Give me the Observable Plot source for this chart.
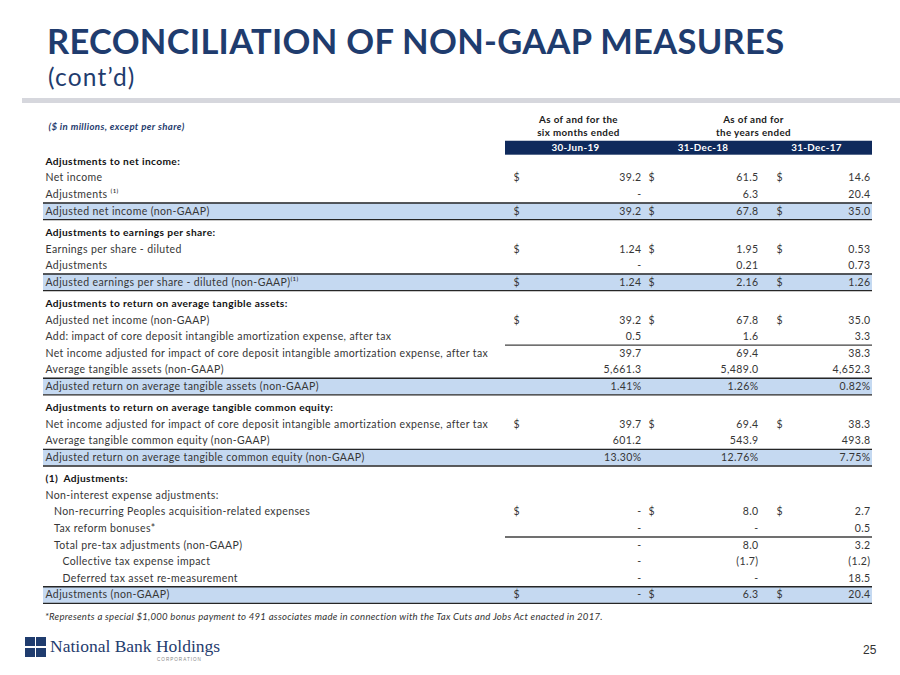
<!DOCTYPE html>
<html><head><meta charset="utf-8">
<script src="https://cdn.jsdelivr.net/npm/d3@7"></script>
<script src="https://cdn.jsdelivr.net/npm/@observablehq/plot@0.6"></script>
<style>
body{margin:0;background:#fff;}
#slide{position:relative;width:900px;height:675px;overflow:hidden;font-family:Lato,"Open Sans",sans-serif;background:#fff;}
#title{position:absolute;left:47px;top:26px;font-size:34.5px;font-weight:700;color:#1F3C6E;white-space:nowrap;line-height:30px;letter-spacing:0.3px;}
#subtitle{position:absolute;left:48px;top:64.5px;font-size:24.5px;color:#1F3C6E;white-space:nowrap;line-height:24px;letter-spacing:1.2px;}
#bar{position:absolute;left:22px;right:0;top:98px;height:5px;background:#D6D7DD;}
#chart{position:absolute;left:0;top:105px;}
#note{position:absolute;left:45px;top:611px;font-size:9.6px;font-style:italic;color:#333;white-space:nowrap;letter-spacing:0.25px;}
#logo{position:absolute;left:25px;top:637px;width:21px;height:20px;}
#logo i{position:absolute;width:9.5px;height:9px;background:#1F3C6E;}
#brand{position:absolute;left:50px;top:636px;font-family:"Liberation Serif",serif;font-size:17.5px;color:#1F3C6E;white-space:nowrap;line-height:20px;}
#corp{position:absolute;left:157px;top:657px;font-size:4.6px;letter-spacing:1px;color:#888;font-family:"Liberation Sans",sans-serif;}
#page{position:absolute;left:863px;top:643px;font-size:12px;color:#333;font-family:"Liberation Sans",sans-serif;}
</style></head>
<body>
<div id="slide">
  <div id="title"></div>
  <div id="subtitle"></div>
  <div id="bar"></div>
  <div id="chart"></div>
  <div id="note"></div>
  <div id="logo"><i style="left:0;top:0"></i><i style="left:11px;top:0"></i><i style="left:0;top:10.5px"></i><i style="left:11px;top:10.5px"></i></div>
  <div id="brand"></div>
  <div id="corp"></div>
  <div id="page"></div>
</div>
<script>
// ---------- data ----------
const titleText = "RECONCILIATION OF NON-GAAP MEASURES";
const subtitleText = "(cont\u2019d)";
const unitNote = "($ in millions, except per share)";
const groupLine1 = ["As of and for the", "As of and for"];
const groupLine2 = ["six months ended", "the years ended"];
const periods = ["30-Jun-19", "31-Dec-18", "31-Dec-17"];
const sectionTitles = [
  "Adjustments to net income:",
  "Adjustments to earnings per share:",
  "Adjustments to return on average tangible assets:",
  "Adjustments to return on average tangible common equity:",
  "(1)  Adjustments:"
];
const rowLabels = [
  "Net income",
  "Adjustments \u207D\u00B9\u207E",
  "Adjusted net income (non-GAAP)",
  "Earnings per share - diluted",
  "Adjustments",
  "Adjusted earnings per share - diluted (non-GAAP)\u207D\u00B9\u207E",
  "Adjusted net income (non-GAAP)",
  "Add: impact of core deposit intangible amortization expense, after tax",
  "Net income adjusted for impact of core deposit intangible amortization expense, after tax",
  "Average tangible assets (non-GAAP)",
  "Adjusted return on average tangible assets (non-GAAP)",
  "Net income adjusted for impact of core deposit intangible amortization expense, after tax",
  "Average tangible common equity (non-GAAP)",
  "Adjusted return on average tangible common equity (non-GAAP)",
  "Non-interest expense adjustments:",
  "Non-recurring Peoples acquisition-related expenses",
  "Tax reform bonuses*",
  "Total pre-tax adjustments (non-GAAP)",
  "Collective tax expense impact",
  "Deferred tax asset re-measurement",
  "Adjustments (non-GAAP)"
];
const rowSection = [0,0,0, 1,1,1, 2,2,2,2,2, 3,3,3, 4,4,4,4,4,4,4];
const rowIndent  = [0,0,0, 0,0,0, 0,0,0,0,0, 0,0,0, 0,1,1,1,2,2,0];
const jun19 = [39.2, 0, 39.2, 1.24, 0, 1.24, 39.2, 0.5, 39.7, 5661.3, 1.41, 39.7, 601.2, 13.30, null, 0, 0, 0, 0, 0, 0];
const dec18 = [61.5, 6.3, 67.8, 1.95, 0.21, 2.16, 67.8, 1.6, 69.4, 5489.0, 1.26, 69.4, 543.9, 12.76, null, 8.0, 0, 8.0, -1.7, 0, 6.3];
const dec17 = [14.6, 20.4, 35.0, 0.53, 0.73, 1.26, 35.0, 3.3, 38.3, 4652.3, 0.82, 38.3, 493.8, 7.75, null, 2.7, 0.5, 3.2, -1.2, 18.5, 20.4];
const rowFormat = ["m","m","m","eps","eps","eps","m","m","m","m","pct","m","m","pct",null,"m","m","m","m","m","m"];
const dollarRows = [0, 2, 3, 5, 6, 11, 15, 20];
const totalRows = [2, 5, 10, 13, 20];
const subtotalRows = [7, 16];
const footnote = "*Represents a special $1,000 bonus payment to 491 associates made in connection with the Tax Cuts and Jobs Act enacted in 2017.";
const brandName = "National Bank Holdings";
const brandSub = "CORPORATION";
const pageNumber = "25";

// ---------- layout ----------
const L = {
  labelX: 45, indentStep: 8.5, tableLeft: 43, tableRight: 872,
  colLeft: [505, 645, 760], colRight: [645, 760, 872],
  dollarX: [513, 648, 776], valueX: [641, 758, 870],
  groupX: [578, 753],
  gapUnits: 0.28, pitch: 16.6, firstRow: 56
};
const navy = "#1F3C6E", bandNavy = "#0F2A5C", ink = "#363636", lightBlue = "#C5D9F1";

document.getElementById("title").textContent = titleText;
document.getElementById("subtitle").textContent = subtitleText;
document.getElementById("note").textContent = footnote;
document.getElementById("brand").textContent = brandName;
document.getElementById("corp").textContent = brandSub;
document.getElementById("page").textContent = pageNumber;

// slots
const headers = [];
const rows = [];
let slot = 0, prevSection = -1;
rowLabels.forEach((label, i) => {
  const s = rowSection[i];
  if (s !== prevSection) {
    if (prevSection >= 0) slot += L.gapUnits;
    headers.push({label: sectionTitles[s], slot});
    slot += 1;
    prevSection = s;
  }
  rows.push({i, label, slot, indent: rowIndent[i], vals: [jun19[i], dec18[i], dec17[i]], fmt: rowFormat[i]});
  slot += 1;
});

const fmt = (v, f) => {
  if (v == null) return null;
  if (v === 0) return "-";
  const a = Math.abs(v);
  let s = f === "eps" ? d3.format(",.2f")(a) : f === "pct" ? d3.format(".2f")(a) + "%" : d3.format(",.1f")(a);
  return v < 0 ? "(" + s + ")" : s;
};
const cells = rows.flatMap(r => r.vals.map((v, c) => ({slot: r.slot, c, v, text: fmt(v, r.fmt), f: r.fmt}))).filter(d => d.text != null);
const dollars = rows.filter(r => dollarRows.includes(r.i)).flatMap(r => [0,1,2].map(c => ({slot: r.slot, c})));
const totals = rows.filter(r => totalRows.includes(r.i));
const subs = rows.filter(r => subtotalRows.includes(r.i)).flatMap(r => [0,1,2].map(c => ({slot: r.slot, c})));

const plot = Plot.plot({
  width: 900, height: 505, margin: 0,
  style: {fontFamily: "Lato, 'Open Sans', sans-serif", background: "transparent", letterSpacing: "0.38px"},
  x: {type: "linear", domain: [0, 900], range: [0, 900], axis: null},
  y: {type: "linear", domain: [0, 1], range: [L.firstRow, L.firstRow + L.pitch], axis: null},
  marks: [
    // header navy band
    Plot.rect(periods, {x1: (d, i) => L.colLeft[i], x2: (d, i) => L.colRight[i], y1: -1.22, y2: -0.38, fill: bandNavy}),
    // total row highlights
    Plot.rect(totals, {x1: L.tableLeft, x2: L.tableRight, y1: d => d.slot - 0.5, y2: d => d.slot + 0.5, fill: lightBlue}),
    Plot.ruleY(totals, {y: d => d.slot - 0.5, x1: L.tableLeft, x2: L.tableRight, stroke: "#262626", strokeWidth: 1.4}),
    Plot.ruleY(totals, {y: d => d.slot + 0.5, x1: L.tableLeft, x2: L.tableRight, stroke: "#262626", strokeWidth: 1.4}),
    // subtotal rules in value columns
    Plot.ruleY(subs, {y: d => d.slot + 0.5, x1: d => L.colLeft[d.c], x2: d => L.colRight[d.c], stroke: "#404040", strokeWidth: 1.4}),
    // column group headers
    Plot.text(groupLine1, {x: (d, i) => L.groupX[i], y: -2.48, text: d => d, fontWeight: 700, fontSize: 9.8, fill: "#1a1a1a"}),
    Plot.text(groupLine2, {x: (d, i) => L.groupX[i], y: -1.7, text: d => d, fontWeight: 700, fontSize: 9.8, fill: "#1a1a1a"}),
    Plot.text(periods, {x: (d, i) => (L.colLeft[i] + L.colRight[i]) / 2, y: -0.8, text: d => d, fontWeight: 700, fontSize: 9.8, fill: "#fff"}),
    Plot.text([unitNote], {x: L.labelX + 3, y: -2.1, text: d => d, textAnchor: "start", fontWeight: 700, fontStyle: "italic", fontSize: 9.6, fill: navy}),
    // section headers
    Plot.text(headers, {x: L.labelX, y: "slot", text: "label", textAnchor: "start", fontWeight: 700, fontSize: 10.2, fill: "#111"}),
    // row labels
    Plot.text(rows, {x: d => L.labelX + d.indent * L.indentStep, y: "slot", text: "label", textAnchor: "start", fontSize: 10.5, fill: ink}),
    // dollar signs
    Plot.text(dollars, {x: d => L.dollarX[d.c], y: "slot", text: () => "$", textAnchor: "start", fontSize: 10.5, fill: ink}),
    // values
    Plot.text(cells, {x: d => L.valueX[d.c], y: "slot", text: "text", textAnchor: "end", fontSize: 10.5, fill: ink}),
  ]
});
document.getElementById("chart").append(plot);
</script>
</body></html>
